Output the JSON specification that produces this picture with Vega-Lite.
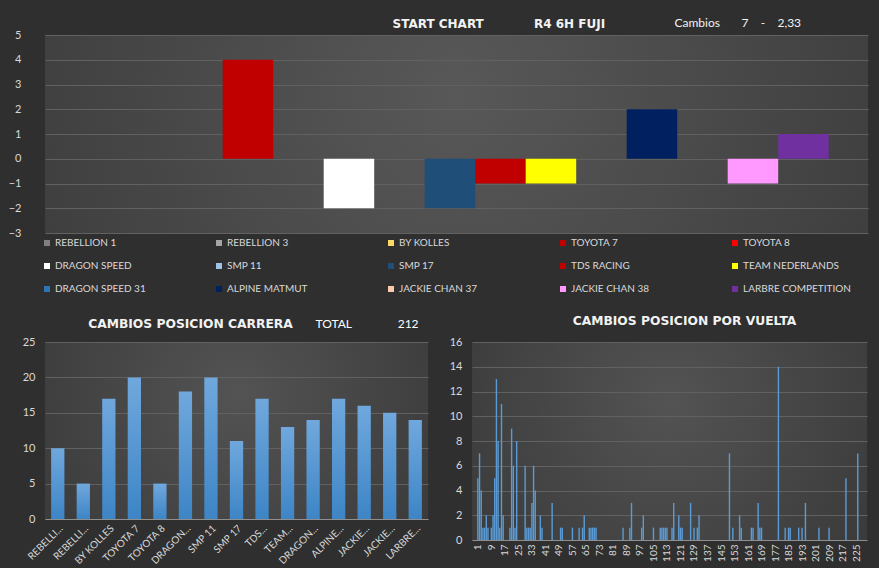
{
  "$schema": "https://vega.github.io/schema/vega-lite/v6.json",
  "background": "#2f2f2f",
  "padding": {"left": 0, "top": 16, "right": 11, "bottom": 2},
  "datasets": {
    "start": [
      {"team": "REBELLION 1", "cambio": 0},
      {"team": "REBELLION 3", "cambio": 0},
      {"team": "BY KOLLES", "cambio": 0},
      {"team": "TOYOTA 7", "cambio": 4},
      {"team": "TOYOTA 8", "cambio": 0},
      {"team": "DRAGON SPEED", "cambio": -2},
      {"team": "SMP 11", "cambio": 0},
      {"team": "SMP 17", "cambio": -2},
      {"team": "TDS RACING", "cambio": -1},
      {"team": "TEAM NEDERLANDS", "cambio": -1},
      {"team": "DRAGON SPEED 31", "cambio": 0},
      {"team": "ALPINE MATMUT", "cambio": 2},
      {"team": "JACKIE CHAN 37", "cambio": 0},
      {"team": "JACKIE CHAN 38", "cambio": -1},
      {"team": "LARBRE COMPETITION", "cambio": 1}
    ],
    "race": [
      {"team": "REBELLION 1", "cambios": 10},
      {"team": "REBELLION 3", "cambios": 5},
      {"team": "BY KOLLES", "cambios": 17},
      {"team": "TOYOTA 7", "cambios": 20},
      {"team": "TOYOTA 8", "cambios": 5},
      {"team": "DRAGON SPEED", "cambios": 18},
      {"team": "SMP 11", "cambios": 20},
      {"team": "SMP 17", "cambios": 11},
      {"team": "TDS RACING", "cambios": 17},
      {"team": "TEAM NEDERLANDS", "cambios": 13},
      {"team": "DRAGON SPEED 31", "cambios": 14},
      {"team": "ALPINE MATMUT", "cambios": 17},
      {"team": "JACKIE CHAN 37", "cambios": 16},
      {"team": "JACKIE CHAN 38", "cambios": 15},
      {"team": "LARBRE COMPETITION", "cambios": 14}
    ],
    "laps": [
      {"vuelta": 1, "cambios": 5}, {"vuelta": 2, "cambios": 7}, {"vuelta": 3, "cambios": 4},
      {"vuelta": 4, "cambios": 1}, {"vuelta": 5, "cambios": 1}, {"vuelta": 6, "cambios": 2},
      {"vuelta": 7, "cambios": 1}, {"vuelta": 9, "cambios": 1}, {"vuelta": 10, "cambios": 2},
      {"vuelta": 11, "cambios": 5}, {"vuelta": 12, "cambios": 13}, {"vuelta": 13, "cambios": 8},
      {"vuelta": 14, "cambios": 1}, {"vuelta": 15, "cambios": 11}, {"vuelta": 16, "cambios": 2},
      {"vuelta": 20, "cambios": 1}, {"vuelta": 21, "cambios": 9}, {"vuelta": 22, "cambios": 6},
      {"vuelta": 23, "cambios": 1}, {"vuelta": 24, "cambios": 8}, {"vuelta": 29, "cambios": 6},
      {"vuelta": 30, "cambios": 1}, {"vuelta": 31, "cambios": 1}, {"vuelta": 32, "cambios": 1},
      {"vuelta": 33, "cambios": 3}, {"vuelta": 34, "cambios": 6}, {"vuelta": 35, "cambios": 4},
      {"vuelta": 38, "cambios": 2}, {"vuelta": 39, "cambios": 1}, {"vuelta": 45, "cambios": 3},
      {"vuelta": 50, "cambios": 1}, {"vuelta": 51, "cambios": 1}, {"vuelta": 57, "cambios": 1},
      {"vuelta": 61, "cambios": 1}, {"vuelta": 63, "cambios": 1}, {"vuelta": 64, "cambios": 2},
      {"vuelta": 67, "cambios": 1}, {"vuelta": 68, "cambios": 1}, {"vuelta": 69, "cambios": 1},
      {"vuelta": 70, "cambios": 1}, {"vuelta": 71, "cambios": 1}, {"vuelta": 87, "cambios": 1},
      {"vuelta": 91, "cambios": 1}, {"vuelta": 92, "cambios": 3}, {"vuelta": 98, "cambios": 1},
      {"vuelta": 99, "cambios": 2}, {"vuelta": 105, "cambios": 1}, {"vuelta": 109, "cambios": 1},
      {"vuelta": 110, "cambios": 1}, {"vuelta": 111, "cambios": 1}, {"vuelta": 112, "cambios": 1},
      {"vuelta": 113, "cambios": 1}, {"vuelta": 116, "cambios": 1}, {"vuelta": 117, "cambios": 3},
      {"vuelta": 120, "cambios": 2}, {"vuelta": 121, "cambios": 1}, {"vuelta": 122, "cambios": 1},
      {"vuelta": 127, "cambios": 3}, {"vuelta": 129, "cambios": 1}, {"vuelta": 131, "cambios": 1},
      {"vuelta": 132, "cambios": 2}, {"vuelta": 150, "cambios": 7}, {"vuelta": 152, "cambios": 1},
      {"vuelta": 156, "cambios": 2}, {"vuelta": 157, "cambios": 1}, {"vuelta": 163, "cambios": 1},
      {"vuelta": 164, "cambios": 1}, {"vuelta": 167, "cambios": 3}, {"vuelta": 168, "cambios": 1},
      {"vuelta": 169, "cambios": 1}, {"vuelta": 179, "cambios": 14}, {"vuelta": 183, "cambios": 1},
      {"vuelta": 185, "cambios": 1}, {"vuelta": 186, "cambios": 1}, {"vuelta": 191, "cambios": 1},
      {"vuelta": 193, "cambios": 1}, {"vuelta": 195, "cambios": 3}, {"vuelta": 203, "cambios": 1},
      {"vuelta": 209, "cambios": 1}, {"vuelta": 219, "cambios": 5}, {"vuelta": 226, "cambios": 7}
    ]
  },
  "concat": [
    {
      "width": 823,
      "height": 198,
      "view": {"stroke": null, "fill": {"gradient": "radial", "x1": 0.5, "y1": 0.45, "r1": 0, "x2": 0.5, "y2": 0.45, "r2": 0.72, "stops": [{"offset": 0, "color": "#585858"}, {"offset": 1, "color": "#363636"}]}},
      "data": {"name": "start"},
      "mark": {"type": "bar"},
      "encoding": {
        "x": {
          "field": "team", "type": "nominal", "sort": null,
          "scale": {"paddingInner": 0, "paddingOuter": 0.6485, "align": 0.4},
          "axis": {
            "labels": false, "ticks": false, "domain": false, "grid": false,
            "title": "Cambios\u00a0\u00a0\u00a0\u00a0\u00a0\u00a0\u00a07\u00a0\u00a0\u00a0\u00a0-\u00a0\u00a0\u00a0\u00a02,33",
            "titleFont": "Lato", "titleFontSize": 12, "titleFontWeight": "normal", "titleColor": "#f2f2f2",
            "titleX": 629, "titleY": -211, "titleAlign": "left", "titleBaseline": "middle", "titleAngle": 0
          }
        },
        "y": {
          "field": "cambio", "type": "quantitative",
          "scale": {"domain": [-3, 5], "nice": false},
          "axis": {
            "values": [-3, -2, -1, 0, 1, 2, 3, 4, 5],
            "labelFontSize": 11, "labelPadding": 24, "minExtent": 45, "maxExtent": 45,
            "title": "START CHART\u00a0\u00a0\u00a0\u00a0\u00a0\u00a0\u00a0\u00a0\u00a0\u00a0\u00a0\u00a0R4 6H FUJI",
            "titleFont": "DejaVu Sans", "titleFontSize": 12, "titleFontWeight": "bold", "titleColor": "#f2f2f2",
            "titleX": 347, "titleY": -12, "titleAlign": "left", "titleBaseline": "middle", "titleAngle": 0
          }
        },
        "color": {
          "field": "team", "type": "nominal", "sort": null,
          "scale": {
            "domain": ["REBELLION 1", "REBELLION 3", "BY KOLLES", "TOYOTA 7", "TOYOTA 8", "DRAGON SPEED", "SMP 11", "SMP 17", "TDS RACING", "TEAM NEDERLANDS", "DRAGON SPEED 31", "ALPINE MATMUT", "JACKIE CHAN 37", "JACKIE CHAN 38", "LARBRE COMPETITION"],
            "range": ["#7f7f7f", "#a5a5a5", "#ffd966", "#c00000", "#ff0000", "#ffffff", "#9dc3e6", "#1f4e79", "#c00000", "#ffff00", "#2e75b6", "#002060", "#f8cbad", "#ff99ff", "#7030a0"]
          },
          "legend": {
            "orient": "none", "legendX": -3, "legendY": 203, "columns": 5, "direction": "horizontal",
            "title": null, "symbolType": "square", "symbolSize": 36, "symbolStrokeWidth": 0,
            "labelFontSize": 10, "labelColor": "#d9d9d9", "labelFont": "Lato", "labelOffset": 3,
            "rowPadding": 13, "columnPadding": 51, "gridAlign": "all", "labelLimit": 200, "padding": 0
          }
        }
      }
    },
    {
      "hconcat": [
        {
          "width": 383,
          "height": 177,
          "view": {"stroke": null, "fill": {"gradient": "radial", "x1": 0.5, "y1": 0.4, "r1": 0, "x2": 0.5, "y2": 0.4, "r2": 0.75, "stops": [{"offset": 0, "color": "#535353"}, {"offset": 1, "color": "#353535"}]}},
          "data": {"name": "race"},
          "mark": {"type": "bar", "fill": {"gradient": "linear", "x1": 0, "y1": 0, "x2": 0, "y2": 1, "stops": [{"offset": 0, "color": "#70a8dd"}, {"offset": 1, "color": "#3d85c6"}]}},
          "encoding": {
            "x": {
              "field": "team", "type": "nominal", "sort": null,
              "scale": {"paddingInner": 0.48, "paddingOuter": 0.24},
              "axis": {
                "labelAngle": -45, "labelFontSize": 10, "labelPadding": 4,
                "labelExpr": "length(datum.label) <= 9 ? datum.label : slice(split(datum.label, ' ')[0], 0, 7) + '...'",
                "domain": true, "domainColor": "#8f8f8f", "ticks": false,
                "title": "TOTAL\u00a0\u00a0\u00a0\u00a0\u00a0\u00a0\u00a0\u00a0\u00a0\u00a0\u00a0\u00a0\u00a0\u00a0\u00a0212",
                "titleFont": "Lato", "titleFontSize": 12, "titleFontWeight": "normal", "titleColor": "#ffffff",
                "titleX": 270, "titleY": -196, "titleAlign": "left", "titleBaseline": "middle", "titleAngle": 0
              }
            },
            "y": {
              "field": "cambios", "type": "quantitative",
              "scale": {"domain": [0, 25], "nice": false},
              "axis": {
                "values": [0, 5, 10, 15, 20, 25],
                "labelFontSize": 11, "labelPadding": 10, "minExtent": 45, "maxExtent": 45,
                "title": "CAMBIOS POSICION CARRERA",
                "titleFont": "DejaVu Sans", "titleFontSize": 12.3, "titleFontWeight": "bold", "titleColor": "#f2f2f2",
                "titleX": 145, "titleY": -19, "titleAlign": "center", "titleBaseline": "middle", "titleAngle": 0
              }
            }
          }
        },
        {
          "width": 395,
          "height": 198,
          "view": {"stroke": null, "fill": {"gradient": "radial", "x1": 0.5, "y1": 0.4, "r1": 0, "x2": 0.5, "y2": 0.4, "r2": 0.75, "stops": [{"offset": 0, "color": "#535353"}, {"offset": 1, "color": "#353535"}]}},
          "data": {"name": "laps"},
          "title": {"text": "CAMBIOS POSICION POR VUELTA", "font": "DejaVu Sans", "fontSize": 12.3, "fontWeight": "bold", "color": "#f2f2f2", "anchor": "middle", "dx": 15, "offset": 3, "baseline": "middle"},
          "mark": {"type": "bar", "width": 1.4, "color": "#5b9bd5"},
          "encoding": {
            "x": {
              "field": "vuelta", "type": "quantitative",
              "scale": {"domain": [0.5, 228.5], "nice": false, "zero": false},
              "axis": {
                "values": [1, 9, 17, 25, 33, 41, 49, 57, 65, 73, 81, 89, 97, 105, 113, 121, 129, 137, 145, 153, 161, 169, 177, 185, 193, 201, 209, 217, 225],
                "labelAngle": -90, "labelFontSize": 10, "labelPadding": 4, "labelFlush": false, "labelOverlap": false,
                "grid": false, "ticks": false, "domain": true, "domainColor": "#8f8f8f", "title": null
              }
            },
            "y": {
              "field": "cambios", "type": "quantitative",
              "scale": {"domain": [0, 16], "nice": false},
              "axis": {
                "values": [0, 2, 4, 6, 8, 10, 12, 14, 16],
                "labelFontSize": 11, "labelPadding": 10, "minExtent": 30, "maxExtent": 30, "title": null
              }
            }
          }
        }
      ],
      "spacing": 14
    }
  ],
  "columns": 1,
  "spacing": 20,
  "resolve": {"scale": {"color": "independent"}, "legend": {"color": "independent"}},
  "config": {
    "font": "Lato",
    "axis": {"labelColor": "#d9d9d9", "labelFont": "Lato", "gridColor": "#616161", "gridWidth": 1, "ticks": false, "domain": false},
    "axisX": {"grid": false},
    "view": {"stroke": null}
  }
}
